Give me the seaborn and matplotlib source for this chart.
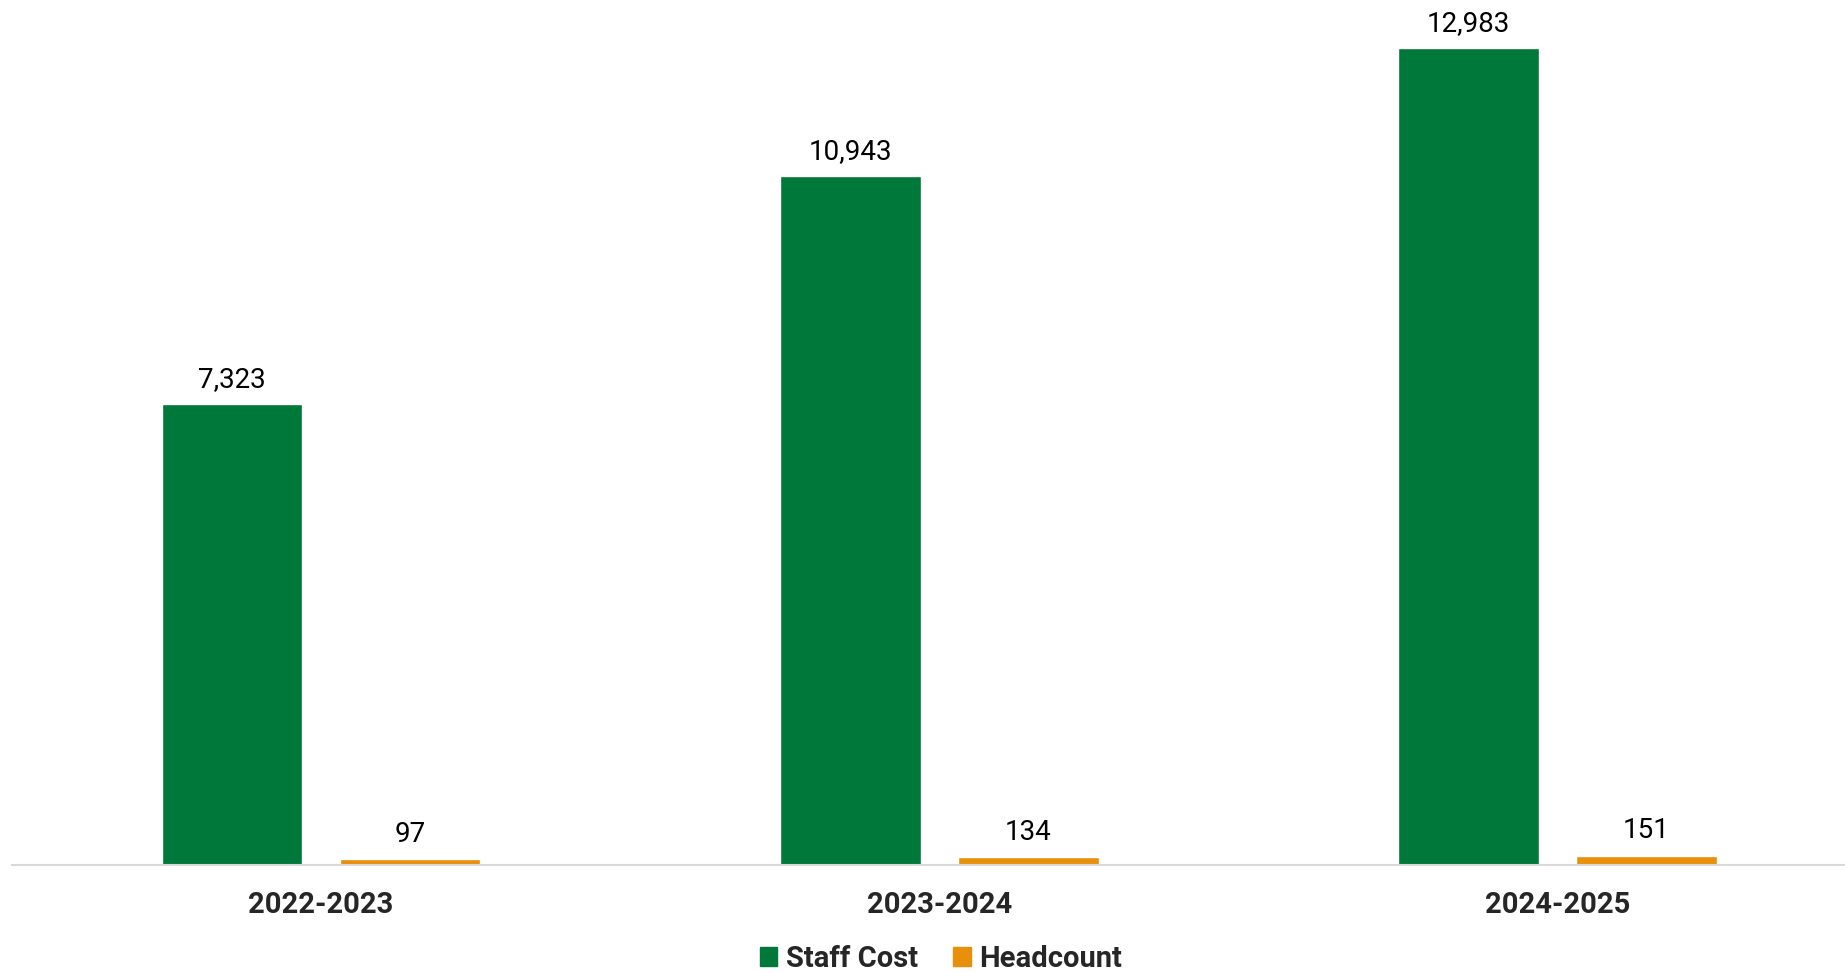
import pandas as pd
import matplotlib.pyplot as plt
import seaborn as sns
from matplotlib.patches import Patch

# Veriler
years = ["2022-2023", "2023-2024", "2024-2025"]
staff_cost = [7323, 10943, 12983]
headcount = [97, 134, 151]
series = ["Staff Cost", "Headcount"]
colors = ["#00783A", "#E8900C"]

df = pd.DataFrame({"Year": years, "Staff Cost": staff_cost, "Headcount": headcount})
df = df.melt(id_vars="Year", var_name="Series", value_name="Value")

sns.set_style("white")
plt.rcParams["font.family"] = ["Roboto", "DejaVu Sans"]

fig = plt.figure(figsize=(18.45, 9.72), dpi=100)
ax = fig.add_axes([0.0065, 0.11, 0.9935, 0.89])

sns.barplot(data=df, x="Year", y="Value", hue="Series", hue_order=series,
            palette=colors, width=0.576, gap=0.21, ax=ax, legend=False,
            saturation=1)

for c in ax.containers:
    ax.bar_label(c, labels=[f"{v:,.0f}" for v in c.datavalues],
                 padding=8, fontsize=20, color="black")

ax.set_ylim(0, 13746)
ax.set_xlim(-0.5, 2.465)
ax.set_xlabel("")
ax.set_ylabel("")
ax.set_yticks([])
for s in ["top", "right", "left"]:
    ax.spines[s].set_visible(False)
ax.spines["bottom"].set_color("#d9d9d9")
ax.spines["bottom"].set_linewidth(1.5)
ax.tick_params(axis="x", length=0, pad=19)
for t in ax.get_xticklabels():
    t.set_fontsize(21)
    t.set_fontweight("bold")

handles = [Patch(color=col, label=lab) for col, lab in zip(colors, series)]
leg = fig.legend(handles=handles, loc="lower center", bbox_to_anchor=(0.51, -0.028),
                 ncol=2, frameon=False, handlelength=0.6, handleheight=0.6,
                 handletextpad=0.3, columnspacing=1.2,
                 prop={"size": 21, "weight": "bold"})

fig.savefig("out.png", dpi=100)
